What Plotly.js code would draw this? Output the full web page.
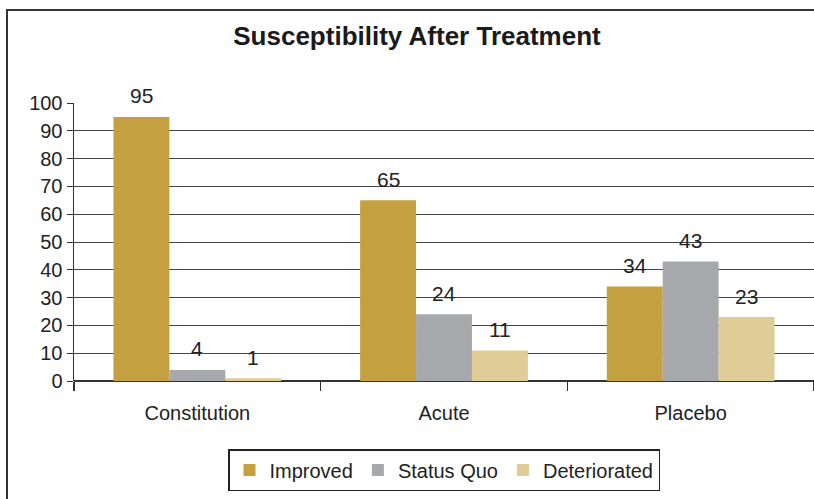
<!DOCTYPE html>
<html>
<head>
<meta charset="utf-8">
<script src="https://cdn.plot.ly/plotly-3.0.1.min.js"></script>
<style>html,body{margin:0;padding:0;background:#fff;}#chart{width:814px;height:499px;}</style>
</head>
<body>
<div id="chart"></div>
<script>
const categories = ["Constitution", "Acute", "Placebo"];
const seriesNames = ["Improved", "Status Quo", "Deteriorated"];
const improved = [95, 65, 34];
const statusQuo = [4, 24, 43];
const deteriorated = [1, 11, 23];
const yTicks = [0, 10, 20, 30, 40, 50, 60, 70, 80, 90, 100];

const colors = ["#C4A040", "#A7A8AB", "#E0CC96"];
const values = [improved, statusQuo, deteriorated];
const FONT = "Liberation Sans, Arial, sans-serif";

const W = 814, H = 499;
const margin = {l: 74, r: 0, t: 103, b: 118};
const bargap = 0.32;
const plotW = W - margin.l - margin.r;
const barPx = plotW / categories.length * (1 - bargap) / values.length;

const traces = values.map((v, i) => ({
  type: "bar",
  name: seriesNames[i],
  x: categories,
  y: v,
  marker: {color: colors[i], line: {width: 0}},
  hoverinfo: "none"
}));

const annotations = [];
values.forEach((v, i) => {
  v.forEach((val, j) => {
    annotations.push({
      x: categories[j], y: val, xref: "x", yref: "y",
      text: String(val), showarrow: false,
      xshift: (i - (values.length - 1) / 2) * barPx,
      yshift: 21, yanchor: "middle", xanchor: "center",
      font: {family: FONT, size: 21, color: "#222"}
    });
  });
});

const layout = {
  width: W, height: H,
  margin: margin,
  paper_bgcolor: "#fff", plot_bgcolor: "#fff",
  font: {family: FONT, size: 20, color: "#222"},
  title: {
    text: "<b>Susceptibility After Treatment</b>",
    font: {family: FONT, size: 26, color: "#1a1a1a"},
    x: 417 / 814, xanchor: "center", xref: "container",
    y: 1 - 36 / 499, yref: "container", yanchor: "middle"
  },
  barmode: "group",
  bargap: bargap,
  bargroupgap: 0,
  showlegend: true,
  legend: {
    orientation: "h",
    x: 0.5, xanchor: "center",
    y: -0.245, yanchor: "top",
    bordercolor: "#222", borderwidth: 1.5,
    font: {family: FONT, size: 20, color: "#222"},
    traceorder: "normal",
    itemclick: false
  },
  annotations: annotations,
  xaxis: {
    type: "category",
    showline: false,
    showgrid: false,
    ticks: "outside",
    tickson: "boundaries",
    ticklen: 9,
    tickcolor: "#333",
    tickwidth: 1.2,
    ticklabelstandoff: 18,
    tickfont: {family: FONT, size: 20, color: "#222"},
    fixedrange: true
  },
  yaxis: {
    range: [0, 100],
    tickvals: yTicks,
    ticktext: yTicks.map(String),
    showgrid: true,
    gridcolor: "#444",
    gridwidth: 1,
    zeroline: true,
    zerolinecolor: "#333",
    zerolinewidth: 1.5,
    showline: true,
    linecolor: "#333",
    linewidth: 1.5,
    ticks: "outside",
    ticklen: 6,
    tickcolor: "#333",
    tickwidth: 1,
    tickfont: {family: FONT, size: 20, color: "#222"},
    fixedrange: true
  },
  shapes: [{
    type: "rect", xref: "paper", yref: "paper",
    x0: -67 / 740, x1: 1.2,
    y0: -2, y1: (381 - 10) / 278,
    line: {color: "#333", width: 2},
    fillcolor: "rgba(0,0,0,0)",
    layer: "above"
  }]
};

Plotly.newPlot("chart", traces, layout, {displayModeBar: false, staticPlot: true});
</script>
</body>
</html>
